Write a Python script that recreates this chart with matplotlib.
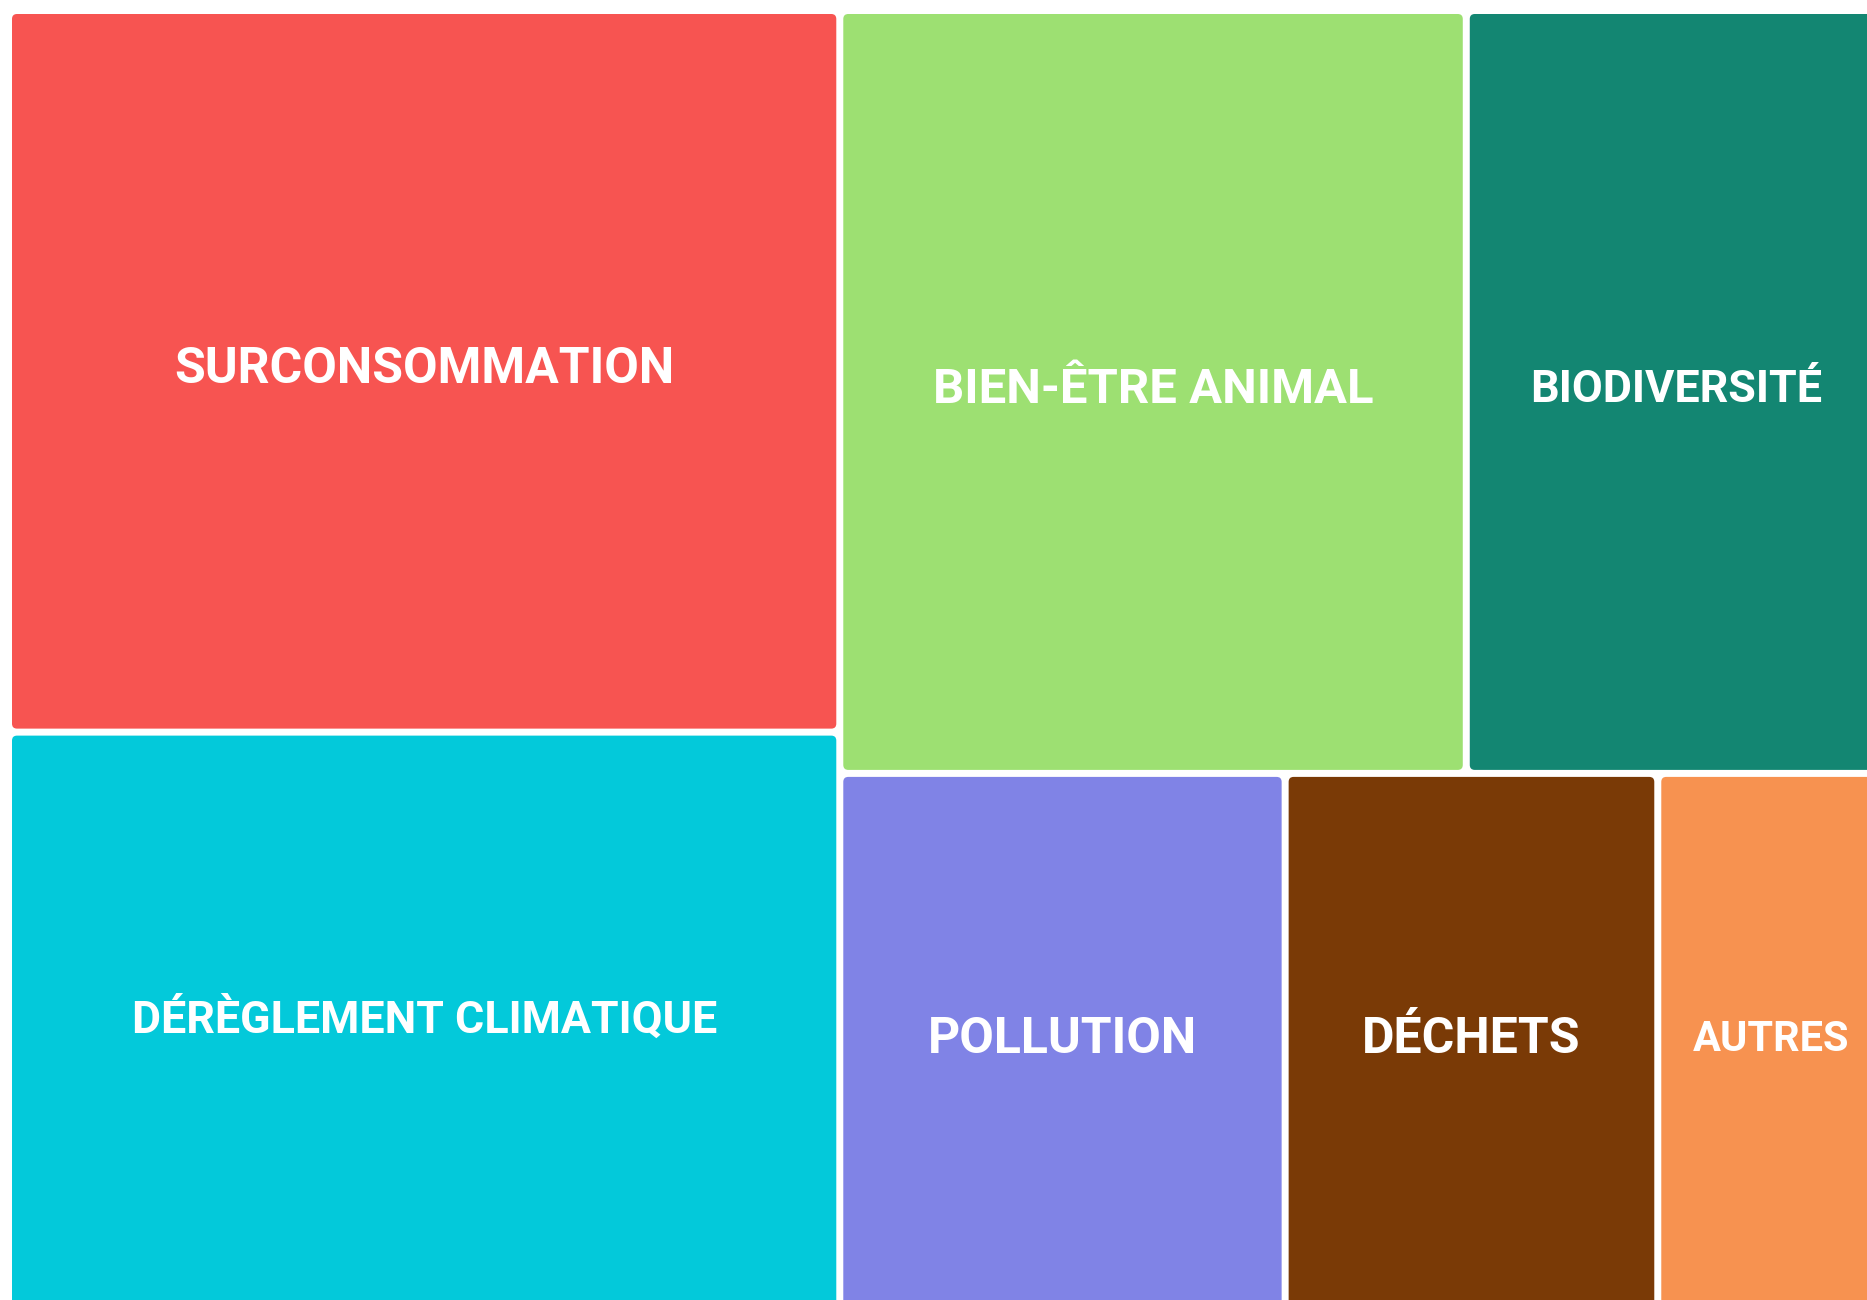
import matplotlib
matplotlib.use("Agg")
import matplotlib.pyplot as plt
from matplotlib.patches import FancyBboxPatch

# Treemap data (share of answers, read from tile areas)
labels = ["SURCONSOMMATION", "DÉRÈGLEMENT CLIMATIQUE", "BIEN-ÊTRE ANIMAL",
          "BIODIVERSITÉ", "POLLUTION", "DÉCHETS", "AUTRES"]
values = [246, 197, 196, 131, 98, 82, 50]
colors = ["#F75451", "#03C9DA", "#9DE072", "#138672", "#8083E6", "#7A3A06", "#F79250"]


def worst(row, side):
    s = sum(row)
    return max(max(side * side * r / (s * s), (s * s) / (side * side * r)) for r in row)


def squarify(vals, x, y, w, h):
    total = sum(vals)
    areas = [v * w * h / total for v in vals]
    rects = []
    i = 0
    while i < len(areas):
        side = min(w, h)
        row = [areas[i]]
        j = i + 1
        while j < len(areas) and worst(row + [areas[j]], side) <= worst(row, side):
            row.append(areas[j])
            j += 1
        s = sum(row)
        if w >= h:
            # column on the left
            cw = s / h
            yy = y
            for a in row:
                rects.append((x, yy, cw, a / cw))
                yy += a / cw
            x += cw
            w -= cw
        else:
            # row along the top
            rh = s / w
            xx = x
            for a in row:
                rects.append((xx, y, a / rh, rh))
                xx += a / rh
            y += rh
            h -= rh
        i = j
    return rects


W, H = 1867, 1300
fig = plt.figure(figsize=(W / 100, H / 100), dpi=100)
ax = fig.add_axes([0, 0, 1, 1])
ax.set_xlim(0, W)
ax.set_ylim(H, 0)
ax.axis("off")

# the treemap is a bit larger than the visible area (cut on the right and bottom)
rects = squarify(values, 8.5, 10.5, 1876.5, 1299.5)
gap = 3.5
base_size = 36
renderer = fig.canvas.get_renderer()

for (x, y, w, h), lab, col in zip(rects, labels, colors):
    box = FancyBboxPatch((x + gap, y + gap), w - 2 * gap, h - 2 * gap,
                         boxstyle="round,pad=0,rounding_size=5",
                         facecolor=col, edgecolor="none")
    ax.add_patch(box)
    t = ax.text(x + w / 2, y + h / 2 - 2, lab, ha="center", va="center",
                color="white", fontsize=base_size, fontweight="bold",
                family=["Roboto", "DejaVu Sans"])
    tw = t.get_window_extent(renderer).width
    if tw > 0.71 * (w - 2 * gap):
        t.set_fontsize(base_size * 0.71 * (w - 2 * gap) / tw)

fig.savefig("out.png", dpi=100)
